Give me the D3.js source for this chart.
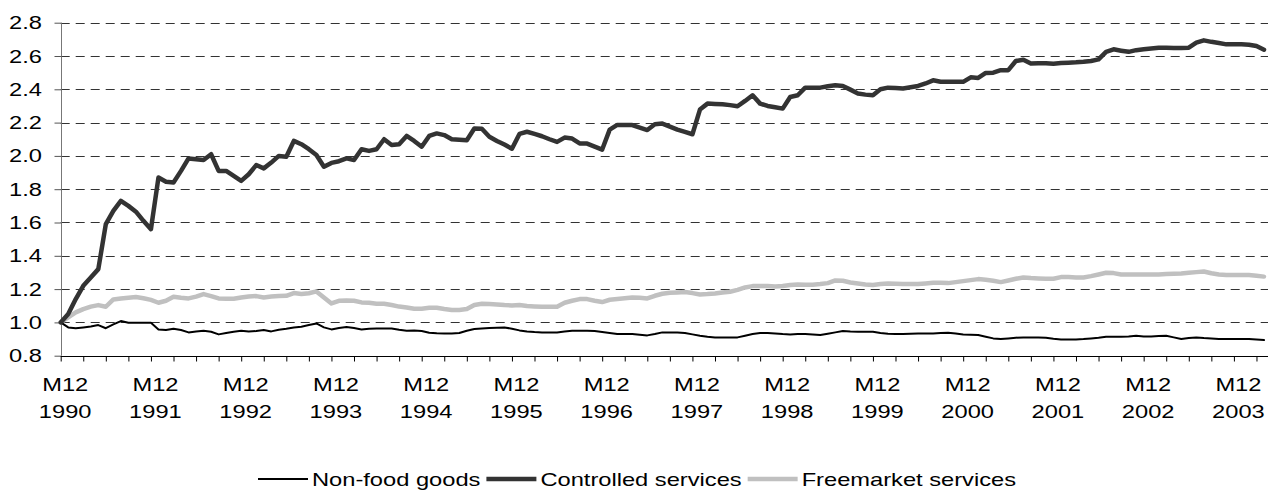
<!DOCTYPE html>
<html><head><meta charset="utf-8">
<script src="https://cdn.jsdelivr.net/npm/d3@7"></script>
<style>
body{margin:0;background:#fff}
svg{display:block}
text{font-family:"Liberation Sans",Arial,sans-serif;fill:#000}
</style>
</head><body>
<svg id="c" width="1270" height="495"></svg>
<script>
// ---------- data ----------
const startYear = 1990, startMonth = 12, nMonths = 161;
const categories = d3.range(nMonths).map(i => {
  const t = startMonth - 1 + i;
  return "M" + (t % 12 + 1) + " " + (startYear + Math.floor(t / 12));
});
const seriesNames = ["Non-food goods", "Controlled services", "Freemarket services"];
const nonFood = [
1.00,0.97,0.965,0.97,0.976,0.984,0.965,0.988,1.008,0.998,0.998,0.998,0.998,0.958,0.954,0.962,0.954,0.94,0.946,0.95,
0.944,0.928,0.936,0.944,0.95,0.946,0.948,0.954,0.946,0.956,0.962,0.97,0.974,0.984,0.994,0.97,0.958,0.966,0.972,0.966,
0.958,0.962,0.964,0.964,0.964,0.956,0.95,0.952,0.948,0.938,0.935,0.934,0.934,0.936,0.95,0.96,0.964,0.966,0.968,0.97,
0.962,0.952,0.946,0.942,0.94,0.94,0.94,0.945,0.95,0.95,0.95,0.948,0.942,0.936,0.93,0.93,0.93,0.926,0.922,0.93,
0.94,0.94,0.94,0.936,0.928,0.92,0.914,0.91,0.91,0.91,0.91,0.92,0.93,0.936,0.936,0.934,0.93,0.928,0.93,0.93,
0.928,0.924,0.932,0.94,0.948,0.945,0.944,0.944,0.944,0.936,0.932,0.93,0.93,0.932,0.934,0.934,0.934,0.936,0.938,0.934,
0.928,0.926,0.924,0.914,0.904,0.90,0.904,0.908,0.91,0.91,0.91,0.908,0.902,0.898,0.898,0.898,0.90,0.904,0.908,0.914,
0.914,0.914,0.916,0.92,0.916,0.915,0.918,0.92,0.91,0.90,0.906,0.91,0.906,0.904,0.90,0.90,0.90,0.90,0.90,0.898,
0.894];
const controlled = [
1.00,1.05,1.14,1.22,1.27,1.32,1.59,1.67,1.73,1.70,1.665,1.61,1.56,1.87,1.845,1.84,1.91,1.985,1.98,1.975,
2.01,1.91,1.91,1.88,1.85,1.89,1.945,1.925,1.96,2.00,1.995,2.09,2.07,2.04,2.005,1.935,1.958,1.968,1.985,1.975,
2.04,2.03,2.04,2.10,2.065,2.07,2.12,2.09,2.055,2.12,2.135,2.125,2.10,2.097,2.094,2.164,2.163,2.115,2.09,2.068,
2.043,2.132,2.145,2.132,2.118,2.10,2.084,2.11,2.104,2.075,2.074,2.056,2.038,2.158,2.186,2.185,2.185,2.17,2.155,2.19,
2.194,2.176,2.158,2.144,2.13,2.278,2.314,2.312,2.31,2.305,2.298,2.33,2.364,2.314,2.30,2.292,2.284,2.354,2.364,2.41,
2.41,2.41,2.418,2.424,2.42,2.398,2.375,2.368,2.364,2.40,2.41,2.408,2.405,2.412,2.42,2.435,2.454,2.445,2.445,2.445,
2.445,2.472,2.468,2.498,2.50,2.515,2.515,2.57,2.578,2.555,2.557,2.557,2.554,2.558,2.56,2.562,2.565,2.57,2.58,2.625,
2.64,2.632,2.625,2.635,2.64,2.645,2.65,2.65,2.648,2.648,2.65,2.68,2.694,2.685,2.678,2.67,2.67,2.67,2.668,2.66,
2.638];
const freemarket = [
1.00,1.03,1.06,1.08,1.095,1.104,1.094,1.138,1.144,1.148,1.152,1.145,1.135,1.118,1.13,1.154,1.148,1.144,1.155,1.17,
1.158,1.144,1.142,1.142,1.15,1.155,1.158,1.15,1.155,1.158,1.16,1.176,1.17,1.175,1.186,1.15,1.114,1.13,1.132,1.13,
1.12,1.118,1.112,1.112,1.104,1.095,1.09,1.082,1.082,1.088,1.088,1.08,1.074,1.075,1.08,1.105,1.112,1.11,1.108,1.104,
1.102,1.104,1.098,1.096,1.094,1.094,1.094,1.118,1.13,1.14,1.14,1.13,1.122,1.136,1.14,1.145,1.15,1.148,1.144,1.16,
1.172,1.178,1.18,1.182,1.176,1.168,1.17,1.174,1.18,1.184,1.195,1.21,1.218,1.218,1.218,1.215,1.218,1.224,1.228,1.226,
1.226,1.23,1.236,1.252,1.25,1.24,1.234,1.228,1.225,1.23,1.234,1.232,1.23,1.23,1.23,1.234,1.238,1.238,1.236,1.242,
1.248,1.254,1.26,1.256,1.25,1.242,1.252,1.262,1.27,1.266,1.264,1.262,1.262,1.272,1.272,1.27,1.27,1.278,1.288,1.298,
1.296,1.288,1.288,1.288,1.288,1.288,1.288,1.29,1.292,1.294,1.298,1.302,1.306,1.295,1.288,1.284,1.284,1.284,1.284,1.28,
1.275];
const yTicks = [0.8,1.0,1.2,1.4,1.6,1.8,2.0,2.2,2.4,2.6,2.8];
const labelYears = ["1990","1991","1992","1993","1994","1995","1996","1997","1998","1999","2000","2001","2002","2003"];

// ---------- layout ----------
const svg = d3.select("#c");
const L = 60.7, R = 1264, T = 22.7, B = 355.7;
const SX = 1.28, FS = 18.5;
const x = d3.scalePoint().domain(categories).range([L, R]);
const y = d3.scaleLinear().domain([0.8, 2.8]).range([B, T]);

function stretchedText(g, tx, ty, str, anchor) {
  return g.append("text")
    .attr("transform", `translate(${tx},${ty}) scale(${SX},1)`)
    .attr("text-anchor", anchor)
    .style("font-size", FS + "px")
    .text(str);
}

// gridlines
svg.append("g").selectAll("line").data(yTicks.filter(d => d > 0.8)).join("line")
  .attr("x1", L).attr("x2", 1268)
  .attr("y1", d => Math.round(y(d)) + 0.5).attr("y2", d => Math.round(y(d)) + 0.5)
  .attr("stroke", "#333").attr("stroke-width", 1).attr("stroke-dasharray", "9,6");

// y axis
const yAxis = d3.axisLeft(y).tickValues(yTicks).tickSize(7).tickFormat("");
const gy = svg.append("g").attr("transform", `translate(${Math.round(L)+0.5},0)`).call(yAxis);
gy.select(".domain").attr("stroke", "#777").attr("d", `M0,${T}V${B}`);
gy.selectAll(".tick line").attr("stroke", "#555");
yTicks.forEach(v => stretchedText(svg, 42, y(v) + 6.5, d3.format(".1f")(v), "end"));

// x axis
const tickCats = categories.filter((_, i) => i % 3 === 0);
const xAxis = d3.axisBottom(x).tickValues(tickCats).tickSize(5).tickFormat("");
const gx = svg.append("g").attr("transform", `translate(0,${Math.round(B)+0.5})`).call(xAxis);
gx.select(".domain").attr("stroke", "#000").attr("d", `M${L},0H1268`);
gx.selectAll(".tick line").attr("stroke", "#000");
labelYears.forEach(yr => {
  const cx = x("M12 " + yr) + 4.5;
  stretchedText(svg, cx, 391, "M12", "middle");
  stretchedText(svg, cx, 418, yr, "middle");
});

// lines
const styles = [
  {data: nonFood, color: "#000", w: 2},
  {data: controlled, color: "#333", w: 4.5},
  {data: freemarket, color: "#c0c0c0", w: 4.5}
];
const line = d3.line().x((d, i) => x(categories[i])).y(d => y(d));
[styles[2], styles[0], styles[1]].forEach(s => {
  svg.append("path").datum(s.data).attr("d", line)
    .attr("fill", "none").attr("stroke", s.color).attr("stroke-width", s.w)
    .attr("stroke-linejoin", "round").attr("stroke-linecap", "round");
});

// legend
const lg = svg.append("g");
let cur = 0;
const items = [];
seriesNames.forEach((name, k) => {
  const g = lg.append("g");
  g.append("line").attr("x1", cur).attr("x2", cur + 50).attr("y1", 0).attr("y2", 0)
    .attr("stroke", styles[k].color).attr("stroke-width", styles[k].w);
  const t = stretchedText(g, cur + 54, 7, name, "start");
  const w = t.node().getComputedTextLength() * SX;
  cur += 54 + w + 6;
});
const totalW = cur - 6;
lg.attr("transform", `translate(${(1270 - totalW) / 2 + 2},479)`);
</script>
</body></html>
